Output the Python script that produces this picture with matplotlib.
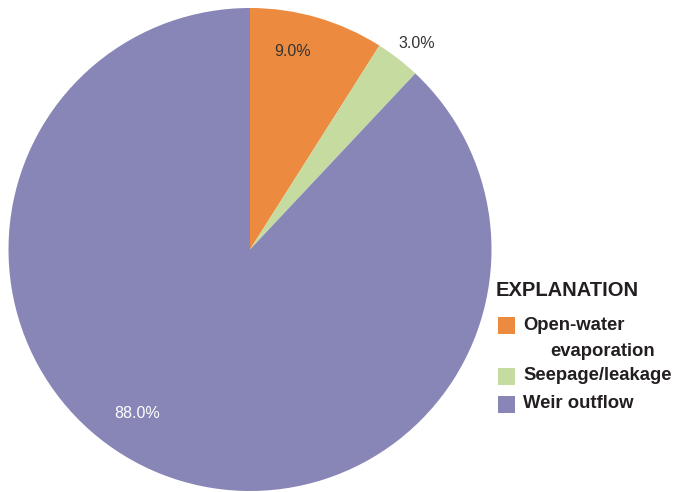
import matplotlib
matplotlib.use("Agg")
import matplotlib.pyplot as plt
from matplotlib.patches import Rectangle

# Datos
categories = ["Open-water", "Seepage/leakage", "Weir outflow"]
shares = [9.0, 3.0, 88.0]
colors = ["#EC8B40", "#C5DBA0", "#8886B7"]

plt.rcParams["font.family"] = ["Liberation Sans", "DejaVu Sans"]

W, H = 689, 492
fig = plt.figure(figsize=(W / 100, H / 100), dpi=100)
ax = fig.add_axes([0, 0, 1, 1])

cx, cy, r = 250, H - 249.5, 241.5
ax.pie(shares, colors=colors, startangle=90, counterclock=False,
       center=(cx, cy), radius=r, frame=True,
       wedgeprops=dict(linewidth=0))
ax.set_xlim(0, W)
ax.set_ylim(0, H)
ax.set_aspect("equal")
ax.axis("off")

# Etiquetas de porcentaje
ax.text(293, H - 52, f"{shares[0]:.1f}%", fontsize=11.5, color="#333333",
        ha="center", va="center")
ax.text(417, H - 43, f"{shares[1]:.1f}%", fontsize=11.5, color="#333333",
        ha="center", va="center")
ax.text(137, H - 413, f"{shares[2]:.1f}%", fontsize=11.5, color="white",
        ha="center", va="center")

# Leyenda manual
ax.text(496, H - 291, "EXPLANATION", fontsize=14.5, fontweight="bold",
        color="#231f20", ha="left", va="center")
rows_y = [325, 376, 404]
for lab, col, y in zip(categories, colors, rows_y):
    ax.add_patch(Rectangle((498, H - y - 8.5), 17, 17, color=col, lw=0))
    ax.text(523, H - y, lab, fontsize=13.3, fontweight="bold", color="#231f20",
            ha="left", va="center")
ax.text(550, H - 352, "evaporation", fontsize=13.3, fontweight="bold",
        color="#231f20", ha="left", va="center")

fig.savefig("out.png", dpi=100)
